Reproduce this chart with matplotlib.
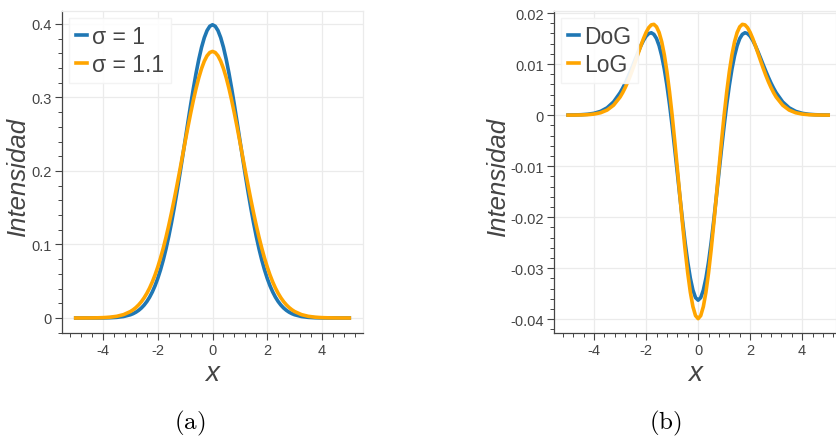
import numpy as np
import matplotlib.pyplot as plt
from matplotlib.ticker import AutoMinorLocator, FixedLocator, FixedFormatter

# ------------------------------------------------------------
# Valores para x >= 0 (las curvas son simétricas en x)
# ------------------------------------------------------------
x_half = [0.0, 0.1, 0.2, 0.3, 0.4, 0.5, 0.6, 0.7, 0.8, 0.9,
          1.0, 1.1, 1.2, 1.3, 1.4, 1.5, 1.6, 1.7, 1.8, 1.9,
          2.0, 2.1, 2.2, 2.3, 2.4, 2.5, 2.6, 2.7, 2.8, 2.9,
          3.0, 3.25, 3.5, 3.75, 4.0, 4.25, 4.5, 4.75, 5.0]

# (a) gaussianas
g_sigma1 = [0.39894, 0.39695, 0.39104, 0.38139, 0.36827, 0.35207, 0.33322,
            0.31225, 0.28969, 0.26609, 0.24197, 0.21785, 0.19419, 0.17137,
            0.14973, 0.12952, 0.11092, 0.09405, 0.07895, 0.06562, 0.05399,
            0.04398, 0.03547, 0.02833, 0.02239, 0.01753, 0.01358, 0.01042,
            0.00792, 0.00595, 0.00443, 0.00203, 0.00087, 0.00035, 0.00013,
            0.00005, 0.00002, 0.00001, 0.0]
g_sigma11 = [0.36268, 0.36118, 0.35673, 0.34943, 0.33947, 0.32708, 0.31255,
             0.29620, 0.27839, 0.25950, 0.23992, 0.21997, 0.20003, 0.18040,
             0.16135, 0.14313, 0.12592, 0.10987, 0.09508, 0.08159, 0.06945,
             0.05862, 0.04908, 0.04075, 0.03356, 0.02741, 0.02220, 0.01784,
             0.01421, 0.01123, 0.00880, 0.00461, 0.00230, 0.00109, 0.00049,
             0.00021, 0.00008, 0.00003, 0.00001]

# (b) DoG y LoG
dog = [-0.03627, -0.03577, -0.03431, -0.03196, -0.02880, -0.02499, -0.02067,
       -0.01605, -0.01130, -0.00659, -0.00205, 0.00212, 0.00584, 0.00903,
       0.01162, 0.01361, 0.01500, 0.01582, 0.01613, 0.01597, 0.01546,
       0.01464, 0.01361, 0.01242, 0.01117, 0.00988, 0.00862, 0.00742,
       0.00629, 0.00528, 0.00437, 0.00258, 0.00142, 0.00073, 0.00035,
       0.00016, 0.00007, 0.00003, 0.00001]
log_ = [-0.03989, -0.03930, -0.03754, -0.03471, -0.03093, -0.02641, -0.02133,
        -0.01592, -0.01043, -0.00506, 0.0, 0.00457, 0.00854, 0.01182,
        0.01437, 0.01619, 0.01730, 0.01778, 0.01768, 0.01713, 0.01620,
        0.01500, 0.01362, 0.01215, 0.01066, 0.00920, 0.00782, 0.00655,
        0.00542, 0.00441, 0.00354, 0.00194, 0.00098, 0.00046, 0.00020,
        0.00008, 0.00003, 0.00001, 0.0]

xticks = [-4, -2, 0, 2, 4]
xticklabels = ['-4', '-2', '0', '2', '4']
yticks_a = [0, 0.1, 0.2, 0.3, 0.4]
yticklabels_a = ['0', '0.1', '0.2', '0.3', '0.4']
yticks_b = [-0.04, -0.03, -0.02, -0.01, 0, 0.01, 0.02]
yticklabels_b = ['-0.04', '-0.03', '-0.02', '-0.01', '0', '0.01', '0.02']


def mirror(xs, ys):
    """Construye la curva completa a partir de la mitad x >= 0."""
    xs = np.asarray(xs)
    ys = np.asarray(ys)
    return np.concatenate([-xs[:0:-1], xs]), np.concatenate([ys[:0:-1], ys])


AXIS_COLOR = '#444444'
GRID_COLOR = '#ebebeb'
BLUE = '#1f77b4'
ORANGE = '#ffa500'

plt.rcParams['font.family'] = ['Liberation Sans', 'DejaVu Sans']
plt.rcParams['axes.unicode_minus'] = False
plt.rcParams['mathtext.fontset'] = 'cm'


def style_axes(ax, yticks, yticklabels, ylabel_x):
    ax.xaxis.set_major_locator(FixedLocator(xticks))
    ax.xaxis.set_major_formatter(FixedFormatter(xticklabels))
    ax.yaxis.set_major_locator(FixedLocator(yticks))
    ax.yaxis.set_major_formatter(FixedFormatter(yticklabels))
    ax.xaxis.set_minor_locator(AutoMinorLocator(5))
    ax.yaxis.set_minor_locator(AutoMinorLocator(5))
    ax.grid(True, which='major', color=GRID_COLOR, linewidth=0.9)
    ax.set_axisbelow(True)
    for side in ['top', 'right']:
        ax.spines[side].set_color(GRID_COLOR)
        ax.spines[side].set_linewidth(0.9)
    for side in ['left', 'bottom']:
        ax.spines[side].set_color(AXIS_COLOR)
        ax.spines[side].set_linewidth(0.9)
    ax.tick_params(which='major', direction='out', length=5, width=0.8,
                   color=AXIS_COLOR, labelcolor=AXIS_COLOR, labelsize=10.5, pad=2.5)
    ax.tick_params(which='minor', direction='out', length=3, width=0.7,
                   color=AXIS_COLOR)
    ax.set_xlabel('x', fontsize=20, style='italic', color=AXIS_COLOR, labelpad=2)
    ax.set_ylabel('Intensidad', fontsize=18.5, style='italic',
                  color=AXIS_COLOR, va='center')
    ax.yaxis.set_label_coords(ylabel_x, 0.49)


fig = plt.figure(figsize=(8.36, 4.39), dpi=100)
ax_a = fig.add_axes([0.0742, 0.2392, 0.360, 0.7335])
ax_b = fig.add_axes([0.6627, 0.2392, 0.3373, 0.7335])

# (a) Gaussianas con sigma = 1 y sigma = 1.1
xa, ya1 = mirror(x_half, g_sigma1)
_, ya2 = mirror(x_half, g_sigma11)
ax_a.plot(xa, ya1, color=BLUE, linewidth=2.6, label='σ = 1')
ax_a.plot(xa, ya2, color=ORANGE, linewidth=2.6, label='σ = 1.1')
ax_a.set_xlim(-5.5, 5.5)
ax_a.set_ylim(-0.0204, 0.4177)
style_axes(ax_a, yticks_a, yticklabels_a, -0.145)

# (b) Diferencia de gaussianas vs laplaciano de gaussiana
xb, yb1 = mirror(x_half, dog)
_, yb2 = mirror(x_half, log_)
ax_b.plot(xb, yb1, color=BLUE, linewidth=2.6, label='DoG')
ax_b.plot(xb, yb2, color=ORANGE, linewidth=2.6, label='LoG')
ax_b.set_xlim(-5.54, 5.3)
ax_b.set_ylim(-0.0427, 0.0204)
style_axes(ax_b, yticks_b, yticklabels_b, -0.2)

for ax in (ax_a, ax_b):
    leg = ax.legend(loc='upper left', fontsize=16.5, handlelength=0.5,
                    handletextpad=0.2, borderpad=0.3, labelspacing=0.25,
                    frameon=True, fancybox=False, borderaxespad=0.3)
    leg.get_frame().set_edgecolor('#f2f2f2')
    leg.get_frame().set_alpha(0.9)
    for t in leg.get_texts():
        t.set_color(AXIS_COLOR)

fig.text(190 / 836, 1 - 423 / 439, r'$\mathrm{(a)}$', fontsize=18,
         ha='center', va='center')
fig.text(665 / 836, 1 - 423 / 439, r'$\mathrm{(b)}$', fontsize=18,
         ha='center', va='center')

fig.savefig('out.png', dpi=100)
